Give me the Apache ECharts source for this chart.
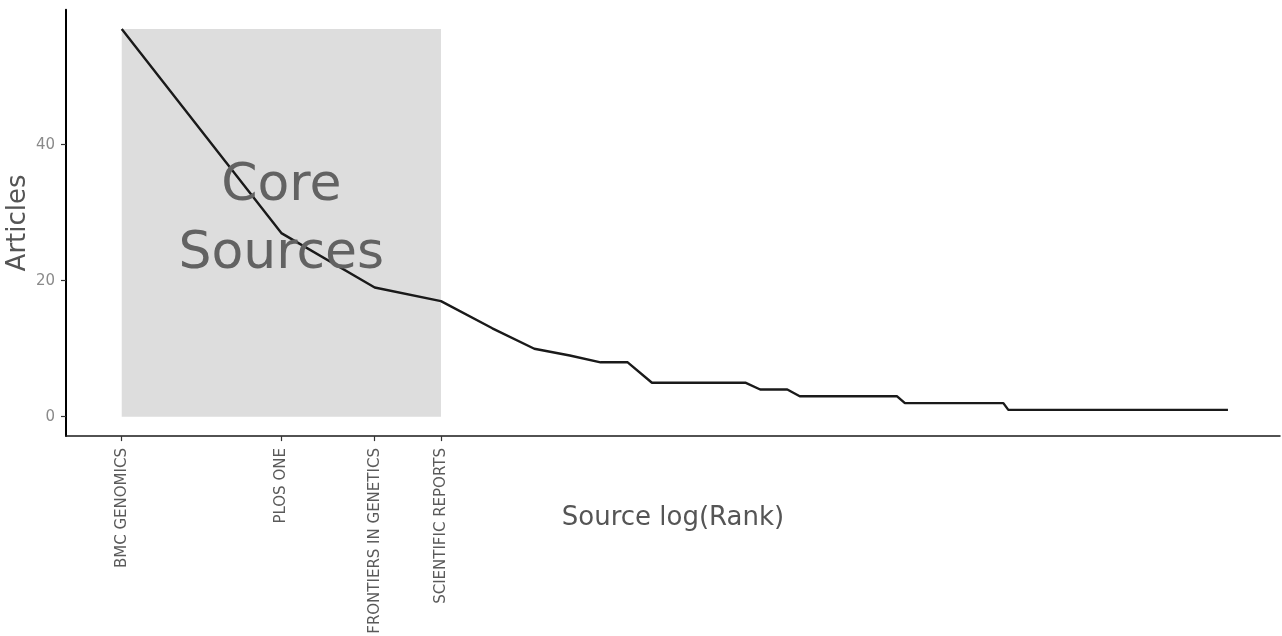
<!DOCTYPE html>
<html>
<head>
<meta charset="utf-8">
<script src="https://cdn.jsdelivr.net/npm/echarts@6/dist/echarts.min.js"></script>
<style>
  html, body { margin: 0; padding: 0; background: #ffffff; }
  #chart { width: 1282px; height: 636px; }
</style>
</head>
<body>
<div id="chart"></div>
<script>
// Core sources (Bradford zone 1), in rank order
const coreSources = ['BMC GENOMICS', 'PLOS ONE', 'FRONTIERS IN GENETICS', 'SCIENTIFIC REPORTS'];

// Articles per source, sources sorted by rank (1..122)
const articles = [
  57, 27, 19, 17, 13, 10, 9, 8, 8,
  5, 5, 5, 5, 5, 5,
  4, 4, 4,
  3, 3, 3, 3, 3, 3, 3, 3, 3, 3, 3,
  2, 2, 2, 2, 2, 2, 2, 2, 2, 2, 2, 2, 2, 2, 2, 2, 2,
  1, 1, 1, 1, 1, 1, 1, 1, 1, 1, 1, 1, 1, 1, 1, 1, 1, 1, 1, 1,
  1, 1, 1, 1, 1, 1, 1, 1, 1, 1, 1, 1, 1, 1, 1, 1, 1, 1, 1, 1,
  1, 1, 1, 1, 1, 1, 1, 1, 1, 1, 1, 1, 1, 1, 1, 1, 1, 1, 1, 1,
  1, 1, 1, 1, 1, 1, 1, 1, 1, 1, 1, 1, 1, 1, 1, 1
];

// Y axis tick values
const yTicks = [0, 20, 40];

const FONT = '"DejaVu Sans", Verdana, sans-serif';

const points = articles.map((v, i) => [Math.log(i + 1), v]);
const coreTicks = coreSources.map((_, i) => Math.log(i + 1));
const coreEnd = Math.log(coreSources.length);
const coreTop = articles[0];

const chart = echarts.init(document.getElementById('chart'), null, { renderer: 'canvas' });

chart.setOption({
  animation: false,
  backgroundColor: '#ffffff',
  grid: {
    left: 66, right: 2, top: 9.7, bottom: 199.9,
    containLabel: false,
    outerBoundsMode: 'none'
  },
  xAxis: {
    type: 'value',
    min: -0.242,
    max: 5.03,
    name: 'Source log(Rank)',
    nameLocation: 'middle',
    nameGap: 69,
    nameMoveOverlap: false,
    nameTextStyle: { fontFamily: FONT, fontSize: 26, color: '#555555' },
    axisLine: { show: true, onZero: false, lineStyle: { color: '#1a1a1a', width: 1.5 } },
    axisTick: { show: true, length: 5, customValues: coreTicks, lineStyle: { color: '#333333', width: 1.2 } },
    axisLabel: {
      show: true,
      customValues: coreTicks,
      rotate: 90,
      margin: 12,
      fontFamily: FONT,
      fontSize: 15,
      color: '#5a5a5a',
      formatter: function (val) {
        let best = 0, d = Infinity;
        coreTicks.forEach((t, i) => { const e = Math.abs(t - val); if (e < d) { d = e; best = i; } });
        return coreSources[best];
      }
    },
    splitLine: { show: false }
  },
  yAxis: {
    type: 'value',
    min: -2.85,
    max: 59.85,
    name: 'Articles',
    nameLocation: 'middle',
    nameGap: 35,
    nameRotate: 90,
    nameMoveOverlap: false,
    nameTextStyle: { fontFamily: FONT, fontSize: 26, color: '#555555' },
    axisLine: { show: true, onZero: false, lineStyle: { color: '#000000', width: 2 } },
    axisTick: { show: true, length: 5, customValues: yTicks, lineStyle: { color: '#333333', width: 1.2 } },
    axisLabel: {
      show: true,
      customValues: yTicks,
      margin: 11,
      fontFamily: FONT,
      fontSize: 15,
      color: '#8a8a8a'
    },
    splitLine: { show: false }
  },
  series: [
    {
      type: 'line',
      data: points,
      showSymbol: false,
      symbol: 'none',
      lineStyle: { color: '#1a1a1a', width: 2.4 },
      z: 3,
      markArea: {
        silent: true,
        itemStyle: { color: '#dddddd', opacity: 1 },
        label: { show: false },
        data: [[{ coord: [0, 0] }, { coord: [coreEnd, coreTop] }]]
      }
    },
    {
      type: 'scatter',
      data: [[coreEnd / 2, coreTop / 2]],
      symbolSize: 0,
      silent: true,
      z: 4,
      itemStyle: { opacity: 1 },
      label: {
        show: true,
        position: 'inside',
        formatter: 'Core\nSources',
        fontFamily: FONT,
        fontSize: 52,
        lineHeight: 68,
        color: '#626262',
        opacity: 1,
        align: 'center',
        verticalAlign: 'middle',
        offset: [0, -2]
      }
    }
  ]
});
</script>
</body>
</html>
